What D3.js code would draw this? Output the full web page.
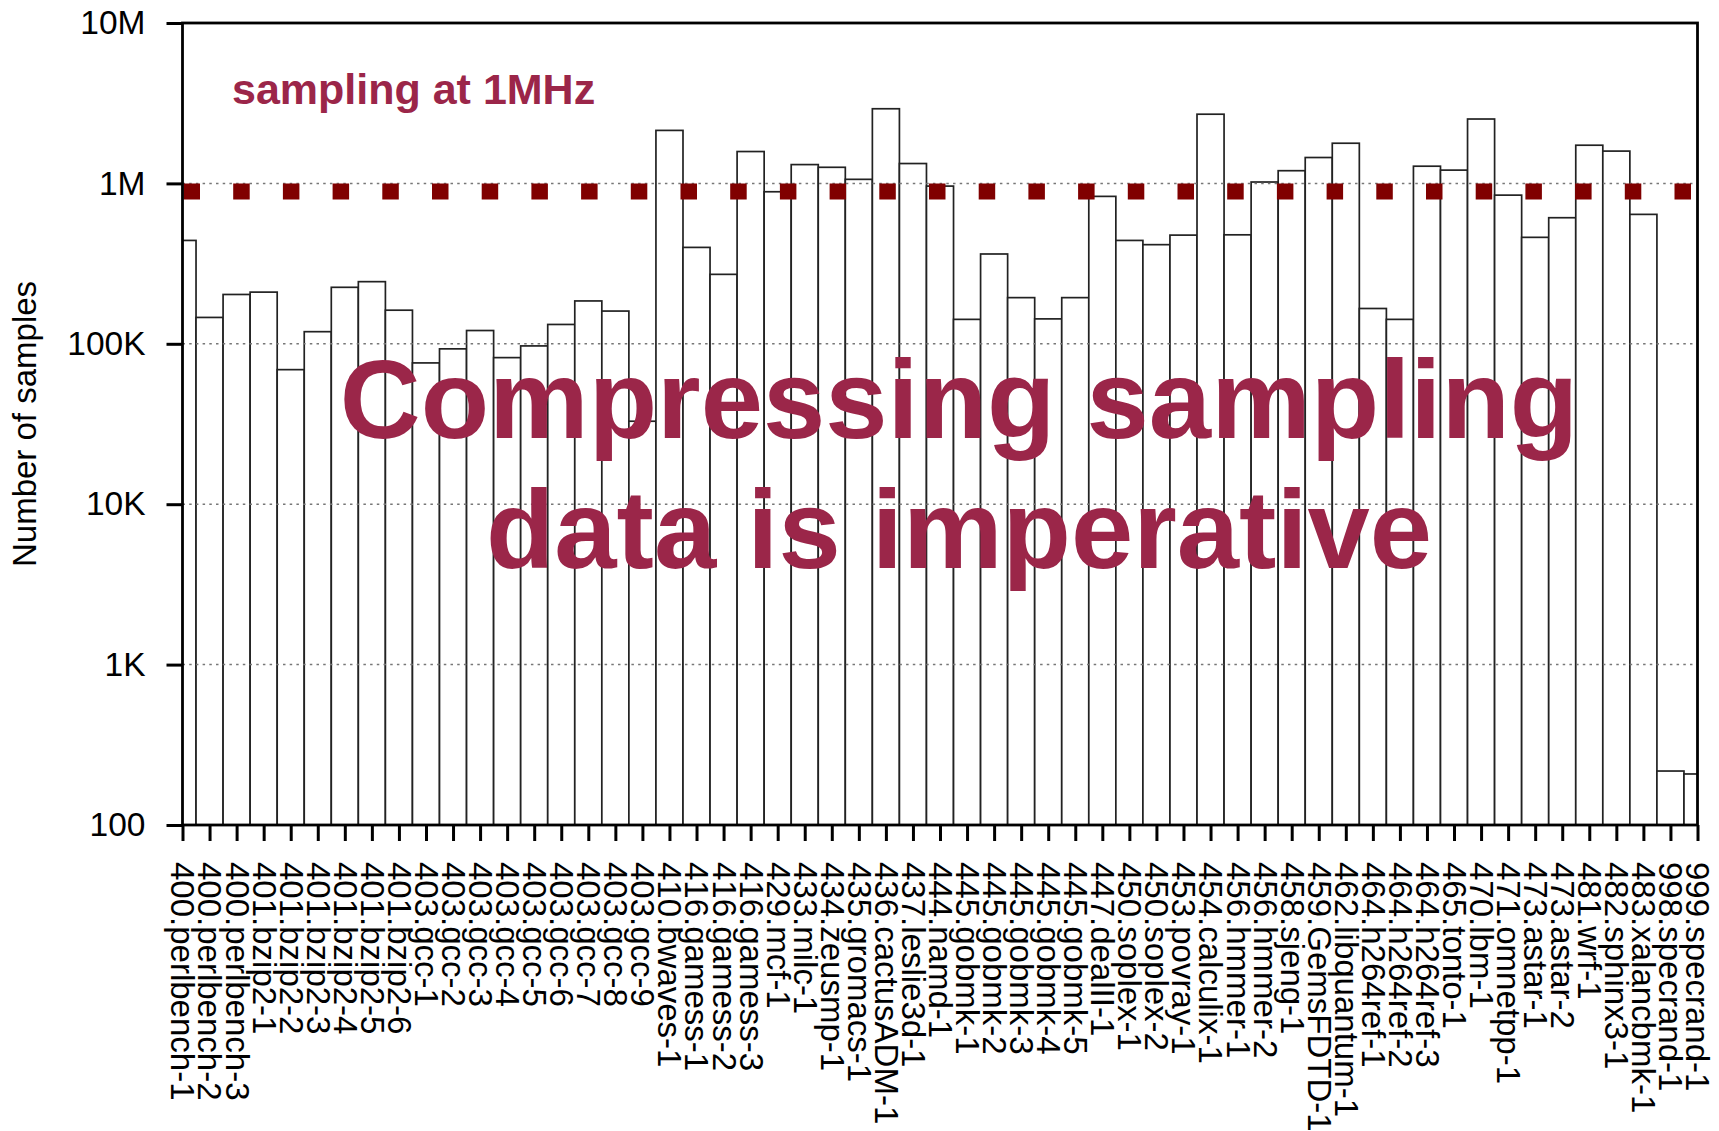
<!DOCTYPE html>
<html><head><meta charset="utf-8">
<script src="https://cdn.jsdelivr.net/npm/d3@7"></script>
<style>body{margin:0;background:#fff}svg{display:block}text{font-family:"Liberation Sans",Arial,Helvetica,sans-serif}</style>
</head><body><svg id="c" width="1719" height="1131"></svg>
<script>
const categories=["400.perlbench-1","400.perlbench-2","400.perlbench-3","401.bzip2-1","401.bzip2-2","401.bzip2-3","401.bzip2-4","401.bzip2-5","401.bzip2-6","403.gcc-1","403.gcc-2","403.gcc-3","403.gcc-4","403.gcc-5","403.gcc-6","403.gcc-7","403.gcc-8","403.gcc-9","410.bwaves-1","416.gamess-1","416.gamess-2","416.gamess-3","429.mcf-1","433.milc-1","434.zeusmp-1","435.gromacs-1","436.cactusADM-1","437.leslie3d-1","444.namd-1","445.gobmk-1","445.gobmk-2","445.gobmk-3","445.gobmk-4","445.gobmk-5","447.dealII-1","450.soplex-1","450.soplex-2","453.povray-1","454.calculix-1","456.hmmer-1","456.hmmer-2","458.sjeng-1","459.GemsFDTD-1","462.libquantum-1","464.h264ref-1","464.h264ref-2","464.h264ref-3","465.tonto-1","470.lbm-1","471.omnetpp-1","473.astar-1","473.astar-2","481.wrf-1","482.sphinx3-1","483.xalancbmk-1","998.specrand-1","999.specrand-1"];
const values=[441000,146000,203000,210000,69000,119000,225000,244000,162000,76000,93000,121000,82000,97000,132000,185000,160000,32900,2140000,399000,271000,1580000,887000,1310000,1260000,1060000,2920000,1330000,962000,142000,363000,194000,143000,194000,830000,441000,415000,476000,2700000,478000,1020000,1200000,1450000,1780000,166000,142000,1280000,1210000,2520000,845000,461000,611000,1730000,1590000,641000,217,208];
const yTickValues=[100,1e3,1e4,1e5,1e6,1e7];
const yTickLabels=["100","1K","10K","100K","1M","10M"];
const gridValues=[1e3,1e4,1e5,1e6];
const rateLineValue=890000;
const rateLabel="sampling at 1MHz";
const messageLines=["Compressing sampling","data is imperative"];
const yTitle="Number of samples";

const svg=d3.select("#c");
const L=182.5,R=1697.5,T=23,B=825;
const x=d3.scalePoint().domain(categories).range([L,R]);
const step=x.step();
const y=d3.scaleLog().domain([100,1e7]).range([B,T]);

svg.append("defs").append("clipPath").attr("id","plot").append("rect")
  .attr("x",L).attr("y",T).attr("width",R-L).attr("height",B-T);

const data=categories.map((c,i)=>({c,v:values[i]}));
svg.append("g").attr("clip-path","url(#plot)").selectAll("rect").data(data).join("rect")
  .attr("x",d=>x(d.c)-step/2).attr("width",step)
  .attr("y",d=>y(d.v)).attr("height",d=>B-y(d.v))
  .attr("fill","#fff").attr("stroke","#222").attr("stroke-width",1.7);

svg.append("g").selectAll("line").data(gridValues).join("line")
  .attr("x1",L).attr("x2",R).attr("y1",d=>y(d)).attr("y2",d=>y(d))
  .attr("stroke","#777").attr("stroke-width",1.5).attr("stroke-dasharray","2.5 4.2");

svg.append("line").attr("x1",L+1).attr("x2",R).attr("y1",y(rateLineValue)).attr("y2",y(rateLineValue))
  .attr("stroke","#800000").attr("stroke-width",16).attr("stroke-dasharray","16.5 33.2");

const ya=svg.append("g").attr("transform",`translate(${L},0)`)
  .call(d3.axisLeft(y).tickValues(yTickValues).tickFormat((d,i)=>yTickLabels[i]).tickSize(16).tickSizeOuter(0).tickPadding(21));
ya.selectAll("line").attr("stroke","#000").attr("stroke-width",3);
ya.select(".domain").remove();
ya.selectAll("text").attr("font-size",33.5).attr("fill","#000").style("font-family","'Liberation Sans',Arial,sans-serif");

const xa=svg.append("g").attr("transform",`translate(0,${B})`)
  .call(d3.axisBottom(x).tickSize(16).tickSizeOuter(0));
xa.select(".domain").remove();
xa.selectAll("line").attr("stroke","#000").attr("stroke-width",3);
xa.selectAll("text").attr("x",0).attr("y",0).attr("dy","0.35em")
  .attr("transform","translate(0,37) rotate(90)").attr("text-anchor","start")
  .attr("font-size",33).attr("fill","#000").style("font-family","'Liberation Sans',Arial,sans-serif");

svg.append("rect").attr("x",L).attr("y",T).attr("width",R-L).attr("height",B-T)
  .attr("fill","none").attr("stroke","#000").attr("stroke-width",2.8);

svg.append("text").attr("transform","translate(24,424) rotate(-90)").attr("dy","0.35em")
  .attr("text-anchor","middle").attr("font-size",33).attr("fill","#000").text(yTitle);

svg.append("text").attr("x",232).attr("y",104).attr("font-size",43).attr("font-weight","bold")
  .attr("fill","#9B2649").text(rateLabel);

svg.append("g").selectAll("text").data(messageLines).join("text")
  .attr("x",959).attr("y",(d,i)=>438+i*130).attr("text-anchor","middle")
  .attr("font-size",112).attr("font-weight","bold").attr("fill","#9B2649").text(d=>d);
</script></body></html>
